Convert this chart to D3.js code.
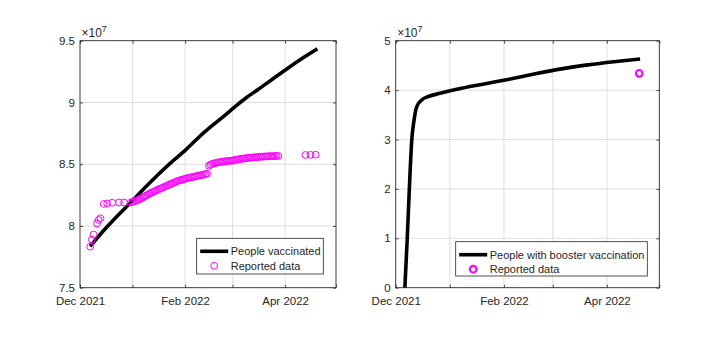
<!DOCTYPE html>
<html><head><meta charset="utf-8">
<script src="https://cdn.jsdelivr.net/npm/d3@7"></script>
<style>
body{margin:0;background:#fff;}
svg text{font-family:"Liberation Sans",Arial,Helvetica,sans-serif;fill:#262626;}
</style></head>
<body><svg id="c" width="720" height="338"></svg>
<script>
// ---- data (values in units of 10^7 people) ----
const vaccDates = ["2021-12-07","2021-12-15","2021-12-22","2021-12-30","2022-01-08","2022-01-16","2022-01-24","2022-01-31","2022-02-08","2022-02-16","2022-02-23","2022-03-03","2022-03-10","2022-03-15","2022-03-25","2022-04-03","2022-04-12","2022-04-20"];
const vaccValues = [7.835,7.966,8.068,8.176,8.308,8.415,8.52,8.595,8.707,8.803,8.878,8.974,9.05,9.094,9.194,9.282,9.366,9.434];

const reportedDates = ["2021-12-07","2021-12-08","2021-12-09","2021-12-11","2021-12-12","2021-12-13","2021-12-15","2021-12-17","2021-12-20","2021-12-24","2021-12-27","2021-12-31",
"2022-01-01","2022-01-02","2022-01-03","2022-01-04","2022-01-05","2022-01-06","2022-01-07","2022-01-08","2022-01-09","2022-01-10","2022-01-11","2022-01-12","2022-01-13","2022-01-14","2022-01-15","2022-01-16","2022-01-17","2022-01-18","2022-01-19","2022-01-20","2022-01-21","2022-01-22","2022-01-23","2022-01-24","2022-01-25","2022-01-26","2022-01-27","2022-01-28","2022-01-29","2022-01-30","2022-01-31",
"2022-02-01","2022-02-02","2022-02-03","2022-02-04","2022-02-05","2022-02-06","2022-02-07","2022-02-08","2022-02-09","2022-02-10","2022-02-11","2022-02-12","2022-02-13","2022-02-14","2022-02-15","2022-02-16","2022-02-17","2022-02-18","2022-02-19","2022-02-20","2022-02-21","2022-02-22","2022-02-23","2022-02-24","2022-02-25","2022-02-26","2022-02-27","2022-02-28",
"2022-03-01","2022-03-02","2022-03-03","2022-03-04","2022-03-05","2022-03-06","2022-03-07","2022-03-08","2022-03-09","2022-03-10","2022-03-11","2022-03-12","2022-03-13","2022-03-14","2022-03-15","2022-03-16","2022-03-17","2022-03-18","2022-03-19","2022-03-20","2022-03-21","2022-03-22","2022-03-23","2022-03-24","2022-03-25","2022-03-26","2022-03-27","2022-03-28",
"2022-04-13","2022-04-16","2022-04-19"];
const reportedValues = [7.832,7.89,7.93,8.021,8.048,8.062,8.178,8.182,8.188,8.19,8.19,8.19,
8.195,8.20,8.205,8.21,8.215,8.222,8.23,8.238,8.246,8.254,8.262,8.268,8.275,8.281,8.288,8.294,8.30,8.306,8.312,8.318,8.324,8.33,8.336,8.342,8.348,8.354,8.36,8.365,8.37,8.374,8.378,
8.382,8.386,8.389,8.392,8.395,8.398,8.401,8.404,8.407,8.41,8.413,8.416,8.42,8.424,8.488,8.496,8.502,8.507,8.51,8.513,8.516,8.518,8.52,8.522,8.524,8.526,8.527,8.528,
8.53,8.533,8.536,8.538,8.541,8.543,8.545,8.547,8.549,8.55,8.552,8.553,8.555,8.556,8.557,8.558,8.56,8.561,8.562,8.563,8.563,8.564,8.565,8.565,8.566,8.566,8.566,8.567,
8.575,8.576,8.577];

const boosterDates = ["2021-12-06T06:00","2021-12-07T14:00","2021-12-08T19:00","2021-12-10T05:00","2021-12-11T12:00","2021-12-13T00:00","2021-12-15T22:00","2021-12-19T17:00","2021-12-26T10:00","2022-01-05T00:00","2022-01-20T00:00","2022-02-04T00:00","2022-02-19T00:00","2022-03-06T00:00","2022-03-21T00:00","2022-04-05T00:00","2022-04-20T00:00"];
const boosterValues = [0,0.97,1.98,2.99,3.39,3.66,3.80,3.87,3.935,4.016,4.12,4.22,4.33,4.43,4.51,4.575,4.63];

const boosterReportedDates = ["2022-04-19T12:00"];
const boosterReportedValues = [4.34];

const leftYTicks = [7.5,8,8.5,9,9.5];
const rightYTicks = [0,1,2,3,4,5];
const xLabelMonths = ["Dec 2021","Feb 2022","Apr 2022"];
const legendLeft = ["People vaccinated","Reported data"];
const legendRight = ["People with booster vaccination","Reported data"];
const exponent = "7";

// ---- drawing ----
const parse = s => new Date(s);
const svg = d3.select("#c");
const xDomain = [new Date(2021,11,1), new Date(2022,4,1)];
const fmt = d3.timeFormat("%b %Y");

function panel(opts){
  const {x0,x1,y0,y1,yDomain,yTicks,lineD,lineV,curve,ptD,ptV,ptR,ptW,legend,leg} = opts;
  const x = d3.scaleTime().domain(xDomain).range([x0,x1]);
  const y = d3.scaleLinear().domain(yDomain).range([y1,y0]);
  const g = svg.append("g");
  const months = d3.timeMonth.range(xDomain[0], d3.timeDay.offset(xDomain[1],1));
  // grid
  g.append("g").selectAll("line").data(months.filter(m=>+m>+xDomain[0] && +m<+xDomain[1])).join("line")
    .attr("x1",d=>x(d)).attr("x2",d=>x(d)).attr("y1",y0).attr("y2",y1)
    .attr("stroke","#dedede").attr("stroke-width",1);
  g.append("g").selectAll("line").data(yTicks.slice(1,-1)).join("line")
    .attr("x1",x0).attr("x2",x1).attr("y1",d=>y(d)).attr("y2",d=>y(d))
    .attr("stroke","#dedede").attr("stroke-width",1);
  // axes
  const tickFmt = d => xLabelMonths.includes(fmt(d)) ? fmt(d) : "";
  const ax = [
    g.append("g").attr("transform",`translate(0,${y1})`).call(d3.axisBottom(x).tickValues(months).tickSize(-3).tickPadding(9).tickFormat(tickFmt)),
    g.append("g").attr("transform",`translate(0,${y0})`).call(d3.axisTop(x).tickValues(months).tickSize(-3).tickFormat("")),
    g.append("g").attr("transform",`translate(${x0},0)`).call(d3.axisLeft(y).tickValues(yTicks).tickSize(-3).tickPadding(5).tickFormat(d=>d)),
    g.append("g").attr("transform",`translate(${x1},0)`).call(d3.axisRight(y).tickValues(yTicks).tickSize(-3).tickFormat(""))
  ];
  ax.forEach(a=>{
    a.select(".domain").remove();
    a.selectAll(".tick line").attr("stroke","#262626").attr("stroke-width",0.8);
    a.selectAll("text").attr("font-size",11.5).attr("fill","#262626");
  });
  g.append("rect").attr("x",x0).attr("y",y0).attr("width",x1-x0).attr("height",y1-y0)
    .attr("fill","none").attr("stroke","#262626").attr("stroke-width",0.9);
  // exponent label
  const t = g.append("text").attr("x",x0+1.5).attr("y",y0-4).attr("font-size",12);
  t.append("tspan").text("×10");
  t.append("tspan").attr("dy",-5).attr("font-size",9).text(exponent);
  // line
  const lineData = lineD.map((d,i)=>({d:parse(d),v:lineV[i]}));
  g.append("path").datum(lineData)
    .attr("d",d3.line().x(p=>x(p.d)).y(p=>y(p.v)).curve(curve))
    .attr("fill","none").attr("stroke","#000").attr("stroke-width",3.6)
    .attr("stroke-linejoin","round");
  const pts = ptD.map((d,i)=>({d:parse(d),v:ptV[i]}));
  g.append("g").selectAll("circle").data(pts).join("circle")
    .attr("cx",p=>x(p.d)).attr("cy",p=>y(p.v)).attr("r",ptR)
    .attr("fill","none").attr("stroke","#ff00ff").attr("stroke-width",ptW);
  // legend
  const L = g.append("g");
  L.append("rect").attr("x",leg.x).attr("y",leg.y).attr("width",leg.w).attr("height",leg.h)
    .attr("fill","#fff").attr("stroke","#262626").attr("stroke-width",0.8);
  L.append("line").attr("x1",leg.x+3.5).attr("x2",leg.x+31.5).attr("y1",leg.y+13).attr("y2",leg.y+13)
    .attr("stroke","#000").attr("stroke-width",3.6);
  L.append("circle").attr("cx",leg.x+17.5).attr("cy",leg.y+27.5).attr("r",ptR)
    .attr("fill","none").attr("stroke","#ff00ff").attr("stroke-width",ptW);
  legend.forEach((s,i)=>{
    L.append("text").attr("x",leg.x+34).attr("y",leg.y+13+i*14.5).attr("dy","0.35em")
      .attr("font-size",11).text(s);
  });
}

panel({x0:80,x1:336,y0:40.7,y1:287.7,yDomain:[7.5,9.5],yTicks:leftYTicks,
  lineD:vaccDates,lineV:vaccValues,curve:d3.curveBasis,ptD:reportedDates,ptV:reportedValues,ptR:3.4,ptW:1,
  legend:legendLeft,leg:{x:196.7,y:238.3,w:126.6,h:35.7}});
panel({x0:395.7,x1:659.3,y0:40.7,y1:287.7,yDomain:[0,5],yTicks:rightYTicks,
  lineD:boosterDates,lineV:boosterValues,curve:d3.curveMonotoneX,ptD:boosterReportedDates,ptV:boosterReportedValues,ptR:3.3,ptW:2.2,
  legend:legendRight,leg:{x:455.7,y:241.7,w:191.6,h:34.3}});
</script></body></html>
